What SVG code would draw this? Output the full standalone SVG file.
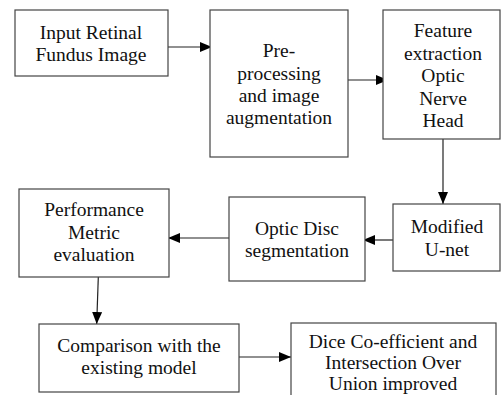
<svg xmlns="http://www.w3.org/2000/svg" width="501" height="395" viewBox="0 0 501 395">
<style>
.box{fill:#fff;stroke:#444;stroke-width:1.2}
.t{font-family:"Liberation Serif","Times New Roman",serif;font-size:19.5px;fill:#111;text-anchor:middle}
.c{stroke:#222;stroke-width:1.2;fill:none;marker-end:url(#ah)}
</style>
<defs>
<marker id="ah" markerUnits="userSpaceOnUse" markerWidth="12" markerHeight="10" refX="12" refY="5" orient="auto">
<path d="M0,0 L12,5 L0,10 z" fill="#000"/>
</marker>
</defs>
<rect width="501" height="395" fill="#fff"/>
<g id="connectors">
<line class="c" x1="168" y1="47" x2="212" y2="47"/>
<line class="c" x1="348" y1="80" x2="388" y2="80"/>
<line class="c" x1="443" y1="139" x2="443" y2="204"/>
<line class="c" x1="393" y1="240" x2="363" y2="240"/>
<line class="c" x1="229" y1="238" x2="168" y2="238"/>
<line class="c" x1="98.3" y1="277" x2="96.7" y2="324"/>
<line class="c" x1="239" y1="357" x2="291" y2="357"/>
</g>
<g id="n1">
<rect class="box" x="15" y="10" width="153" height="66"/>
<text class="t" x="91" y="39">Input Retinal</text>
<text class="t" x="91" y="61">Fundus Image</text>
</g>
<g id="n2">
<rect class="box" x="210" y="10" width="138" height="147"/>
<text class="t" x="279" y="57">Pre-</text>
<text class="t" x="279" y="80">processing</text>
<text class="t" x="279" y="102">and image</text>
<text class="t" x="279" y="124">augmentation</text>
</g>
<g id="n3">
<rect class="box" x="383" y="10" width="117" height="129"/>
<text class="t" x="443" y="37">Feature</text>
<text class="t" x="443" y="60">extraction</text>
<text class="t" x="443" y="82">Optic</text>
<text class="t" x="443" y="105">Nerve</text>
<text class="t" x="443" y="127">Head</text>
</g>
<g id="n4">
<rect class="box" x="393" y="204" width="107" height="67"/>
<text class="t" x="447" y="233">Modified</text>
<text class="t" x="447" y="256">U-net</text>
</g>
<g id="n5">
<rect class="box" x="229" y="197" width="136" height="84"/>
<text class="t" x="297" y="235">Optic Disc</text>
<text class="t" x="297" y="257">segmentation</text>
</g>
<g id="n6">
<rect class="box" x="19" y="189" width="150" height="88"/>
<text class="t" x="94" y="216">Performance</text>
<text class="t" x="94" y="239">Metric</text>
<text class="t" x="94" y="261">evaluation</text>
</g>
<g id="n7">
<rect class="box" x="39" y="324" width="200" height="68"/>
<text class="t" x="139" y="352">Comparison with the</text>
<text class="t" x="139" y="374">existing model</text>
</g>
<g id="n8">
<rect class="box" x="291" y="323" width="205" height="90"/>
<text class="t" x="393" y="348">Dice Co-efficient and</text>
<text class="t" x="393" y="369">Intersection Over</text>
<text class="t" x="393" y="390">Union improved</text>
</g>
</svg>
